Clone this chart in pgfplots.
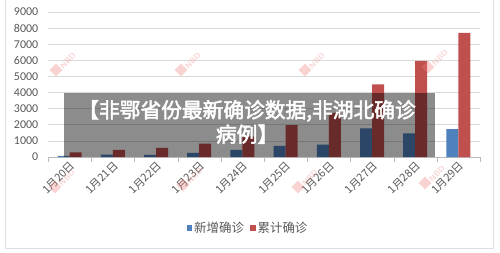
\documentclass[border=0pt]{standalone}
\usepackage{fontspec}
\usepackage{pgfplots}
\pgfplotsset{compat=1.18}
\setmainfont{Carlito}
\newfontfamily\cjk{Noto Sans CJK SC}
\newfontfamily\cjkb[FakeBold=2.5]{Noto Sans CJK SC}
\definecolor{barblue}{HTML}{4F81BD}
\definecolor{barred}{HTML}{C0504D}
\definecolor{txtgray}{HTML}{595959}
\definecolor{gridgray}{HTML}{D9D9D9}
\definecolor{wm}{HTML}{F08080}
\begin{document}
\begin{tikzpicture}[x=1bp,y=1bp]
\useasboundingbox (0,0) rectangle (500,252);
\fill[white] (0,0) rectangle (500,252);
\draw[gray!25,line width=0.8bp] (5,3.5) rectangle (493,255);
\begin{axis}[
  at={(48bp,95bp)}, anchor=south west,
  scale only axis, width=432bp, height=145bp,
  ybar=0pt, bar width=12bp,
  xmin=-0.5, xmax=9.5, ymin=0, ymax=9000,
  xtick={0,...,9},
  xticklabels={1月20日,1月21日,1月22日,1月23日,1月24日,1月25日,1月26日,1月27日,1月28日,1月29日},
  minor xtick={-0.5,0.5,...,9.5},
  major x tick style={draw=none},
  minor x tick style={gray!55},
  minor tick length=5bp,
  tick align=outside,
  ytick={0,1000,...,9000},
  y tick style={draw=none},
  ymajorgrids=true,
  grid style={gridgray, line width=0.6bp},
  axis x line*=bottom, axis y line*=left,
  x axis line style={gray!55, line width=0.8bp},
  y axis line style={draw=none},
  /pgf/number format/assume math mode=true,
  /pgf/number format/1000 sep={},
  yticklabel style={font=\fontsize{12}{12}\selectfont, text=txtgray, xshift=-2bp},
  xticklabel style={font=\cjk\fontsize{11}{11}\selectfont, text=txtgray, rotate=45, anchor=east, inner sep=1bp, yshift=-4bp, xshift=2bp},
  legend style={at={(0.463,-0.49)}, anchor=center, draw=none, fill=none,
    legend columns=2, font=\cjk\fontsize{12.5}{12.5}\selectfont, text=txtgray,
    /tikz/every even column/.append style={column sep=4bp}},
  legend image code/.code={\fill[#1,draw=none] (0bp,-2.8bp) rectangle (5.6bp,2.8bp);},
]
\addplot[fill=barblue, draw=none] coordinates {(0,77) (1,149) (2,131) (3,259) (4,444) (5,688) (6,769) (7,1771) (8,1459) (9,1737)};
\addplot[fill=barred, draw=none] coordinates {(0,291) (1,440) (2,571) (3,830) (4,1287) (5,1975) (6,2744) (7,4515) (8,5974) (9,7711)};
\legend{新增确诊,累计确诊}
\end{axis}
% watermarks
\foreach \p in {(63,189),(188,189),(312,189),(435,192),(62,72),(190,74),(305,72),(432,76)}{
  \node[rotate=45, text=wm, opacity=0.35, font=\sffamily\bfseries\fontsize{8}{8}\selectfont, inner sep=0pt] at \p {\rule{9bp}{9bp}\,NBD};
}
\fill[black,opacity=0.45] (64,95) rectangle (435,159);
\node[text=white, font=\cjkb\fontsize{20.8}{24.5}\selectfont, align=center] at (247,130) {【非鄂省份最新确诊数据,非湖北确诊\\病例】};
\end{tikzpicture}
\end{document}
